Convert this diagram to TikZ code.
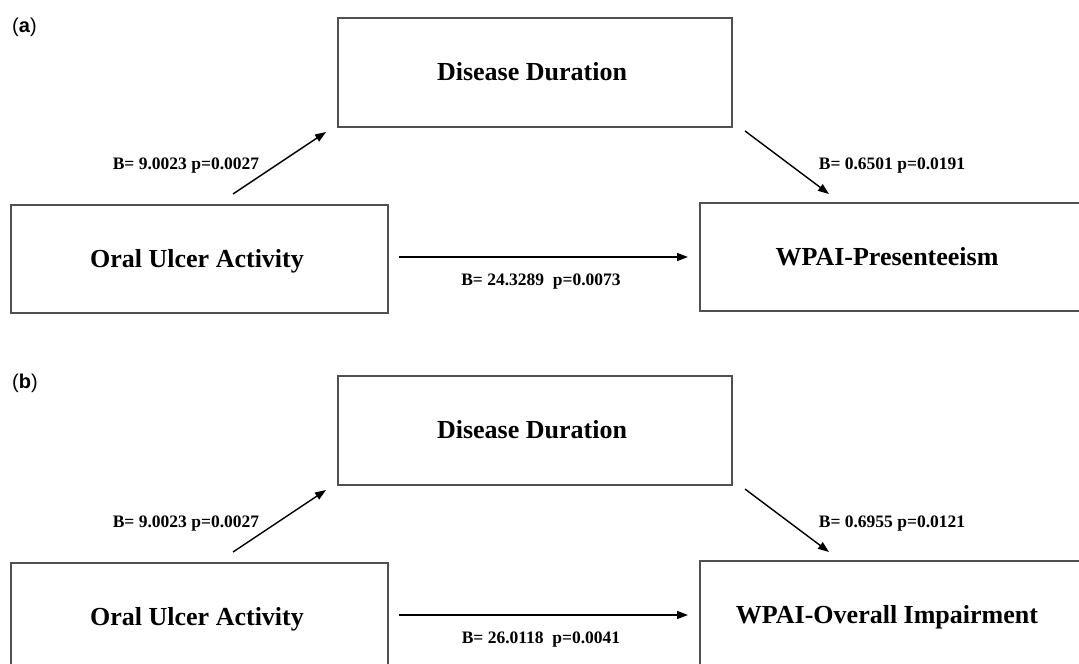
\documentclass[tikz,border=0pt]{standalone}
\usepackage{fontspec}
\setmainfont{Liberation Serif}
\newfontfamily\panelfont{Liberation Sans}
\usetikzlibrary{arrows.meta}
\definecolor{boxgray}{HTML}{505050}
\begin{document}
\begin{tikzpicture}[x=1pt,y=-1pt,
  varbox/.style={draw=boxgray, line width=1.8pt, rectangle, inner sep=0pt, anchor=north west},
  vartext/.style={font=\fontsize{26}{30}\selectfont\bfseries, anchor=base, inner sep=0pt},
  coef/.style={font=\fontsize{17.5}{20}\selectfont\bfseries, anchor=base, inner sep=0pt},
  panel/.style={font=\panelfont\fontsize{20}{23}\selectfont, anchor=base west, inner sep=0pt},
  path/.style={-{Triangle[length=11pt,width=8pt]}, line width=1.4pt, black}]
\useasboundingbox (0,0) rectangle (1079,664);
\clip (0,0) rectangle (1079,664);
\fill[white] (0,0) rectangle (1079,664);

% ---------- panel (a) ----------
\node[panel] (pa) at (12,32) {(\textbf{a})};
\node[varbox, minimum width=394pt, minimum height=109pt] (dda) at (337,17) {};
\node[vartext] (ddat) at (532,80) {Disease Duration};
\node[varbox, minimum width=377pt, minimum height=108pt] (oua) at (10,204) {};
\node[vartext] (ouat) at (197,267) {Oral Ulcer Activity};
\node[varbox, minimum width=420pt, minimum height=108pt] (wpa) at (699,202) {};
\node[vartext] (wpat) at (887,265) {WPAI-Presenteeism};

\coordinate (a1s) at (233,194); \coordinate (a1e) at (326,132);
\coordinate (a2s) at (745,131); \coordinate (a2e) at (829,194);
\coordinate (a3s) at (399,257); \coordinate (a3e) at (688,257);
\draw[path] (a1s) -- (a1e);
\draw[path] (a2s) -- (a2e);
\draw[path] (a3s) -- (a3e);
\node[coef] (ca1) at (186,169) {B= 9.0023 p=0.0027};
\node[coef] (ca2) at (892,169) {B= 0.6501 p=0.0191};
\node[coef] (ca3) at (541,285) {B= 24.3289\ \ p=0.0073};

% ---------- panel (b) ----------
\node[panel] (pb) at (12,388) {(\textbf{b})};
\node[varbox, minimum width=394pt, minimum height=109pt] (ddb) at (337,375) {};
\node[vartext] (ddbt) at (532,438) {Disease Duration};
\node[varbox, minimum width=377pt, minimum height=108pt] (oub) at (10,562) {};
\node[vartext] (oubt) at (197,625) {Oral Ulcer Activity};
\node[varbox, minimum width=420pt, minimum height=108pt] (wpb) at (699,560) {};
\node[vartext] (wpbt) at (887,623) {WPAI-Overall Impairment};

\coordinate (b1s) at (233,552); \coordinate (b1e) at (326,490);
\coordinate (b2s) at (745,489); \coordinate (b2e) at (829,552);
\coordinate (b3s) at (399,615); \coordinate (b3e) at (688,615);
\draw[path] (b1s) -- (b1e);
\draw[path] (b2s) -- (b2e);
\draw[path] (b3s) -- (b3e);
\node[coef] (cb1) at (186,527) {B= 9.0023 p=0.0027};
\node[coef] (cb2) at (892,527) {B= 0.6955 p=0.0121};
\node[coef] (cb3) at (541,643) {B= 26.0118\ \ p=0.0041};
\end{tikzpicture}
\end{document}
